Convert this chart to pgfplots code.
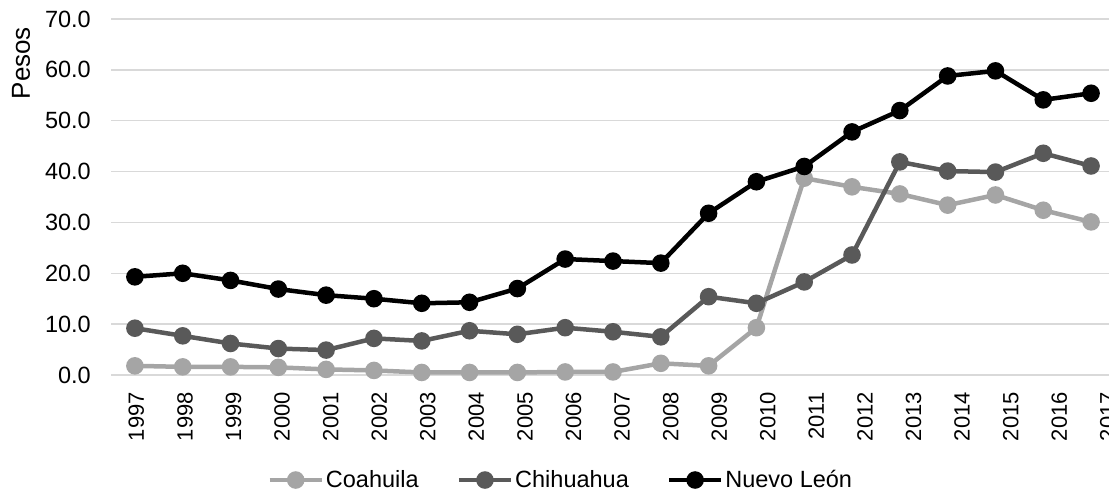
\documentclass[border=0pt]{standalone}
\usepackage{pgfplots}
\usepackage{pgfplotstable}
\pgfplotsset{compat=1.18}
\usepackage{fontspec}
\setmainfont{Liberation Sans}

\definecolor{coah}{HTML}{A5A5A5}
\definecolor{chih}{HTML}{595959}
\definecolor{nleon}{HTML}{000000}
\definecolor{gridc}{HTML}{D9D9D9}

% year index (0 = 1997), values in pesos
\pgfplotstableread{
idx coah chih nleon
0  1.8  9.2 19.3
1  1.6  7.7 20.0
2  1.6  6.2 18.6
3  1.5  5.2 16.9
4  1.1  4.9 15.7
5  0.9  7.2 15.0
6  0.5  6.7 14.1
7  0.5  8.7 14.3
8  0.5  8.0 17.0
9  0.6  9.3 22.8
10 0.6  8.5 22.4
11 2.3  7.5 22.0
12 1.8 15.4 31.8
13 9.3 14.1 38.0
14 38.7 18.3 41.0
15 37.0 23.6 47.8
16 35.6 41.9 52.0
17 33.4 40.1 58.8
18 35.4 39.9 59.8
19 32.4 43.6 54.1
20 30.1 41.1 55.4
}\datatable

\begin{document}
\begin{tikzpicture}
\begin{axis}[
  at={(111bp,115bp)}, anchor=south west,
  scale only axis, width=1004bp, height=356bp,
  xmin=-0.5, xmax=20.5, ymin=0, ymax=70,
  ytick={0,10,...,70},
  xtick={0.031,1.047,2.063,3.079,4.095,5.111,6.127,7.143,8.159,9.175,10.191,11.207,12.223,13.239,14.255,15.271,16.287,17.303,18.319,19.335,20.351},
  xticklabels={1997,1998,1999,2000,2001,2002,2003,2004,2005,2006,2007,2008,2009,2010,2011,2012,2013,2014,2015,2016,2017},
  ymajorgrids, xmajorgrids=false,
  major grid style={gridc, line width=1.5bp},
  axis line style={draw=none},
  major tick length=0pt,
  /pgf/number format/assume math mode=true,
  yticklabel style={/pgf/number format/fixed, /pgf/number format/fixed zerofill, /pgf/number format/precision=1},
  yticklabel style={font=\fontsize{23.5bp}{28bp}\selectfont, anchor=east, inner sep=0pt, xshift=-20bp},
  xticklabel style={font=\fontsize{22bp}{26bp}\selectfont, inner sep=0pt, yshift=-17bp, rotate=90, anchor=east},
  ylabel={Pesos},
  ylabel style={font=\fontsize{26bp}{30bp}\selectfont, at={(axis description cs:-0.0896,0.876)}, anchor=center, inner sep=0pt},
  legend columns=3,
  legend style={at={(axis description cs:0.448,-0.295)}, anchor=center, draw=none, fill=none,
    font=\fontsize{23.5bp}{28bp}\selectfont,
    /tikz/every even column/.append style={column sep=36bp}},
  legend image code/.code={\draw[mark repeat=2,mark phase=2,#1] plot coordinates {(0bp,0bp) (26bp,0bp) (52bp,0bp)};},
  every axis plot/.append style={line width=4.5bp, mark=*, mark size=6.5bp},
]
\addplot[coah, mark options={fill=coah, draw=coah}] table[x=idx, y=coah] {\datatable};
\addlegendentry{Coahuila}
\addplot[chih, mark options={fill=chih, draw=chih}] table[x=idx, y=chih] {\datatable};
\addlegendentry{Chihuahua}
\addplot[nleon, mark options={fill=nleon, draw=nleon}] table[x=idx, y=nleon] {\datatable};
\addlegendentry{Nuevo León}
\end{axis}
\pgfresetboundingbox
\path[use as bounding box] (0,0) rectangle (1109bp,490bp);
\end{tikzpicture}
\end{document}
